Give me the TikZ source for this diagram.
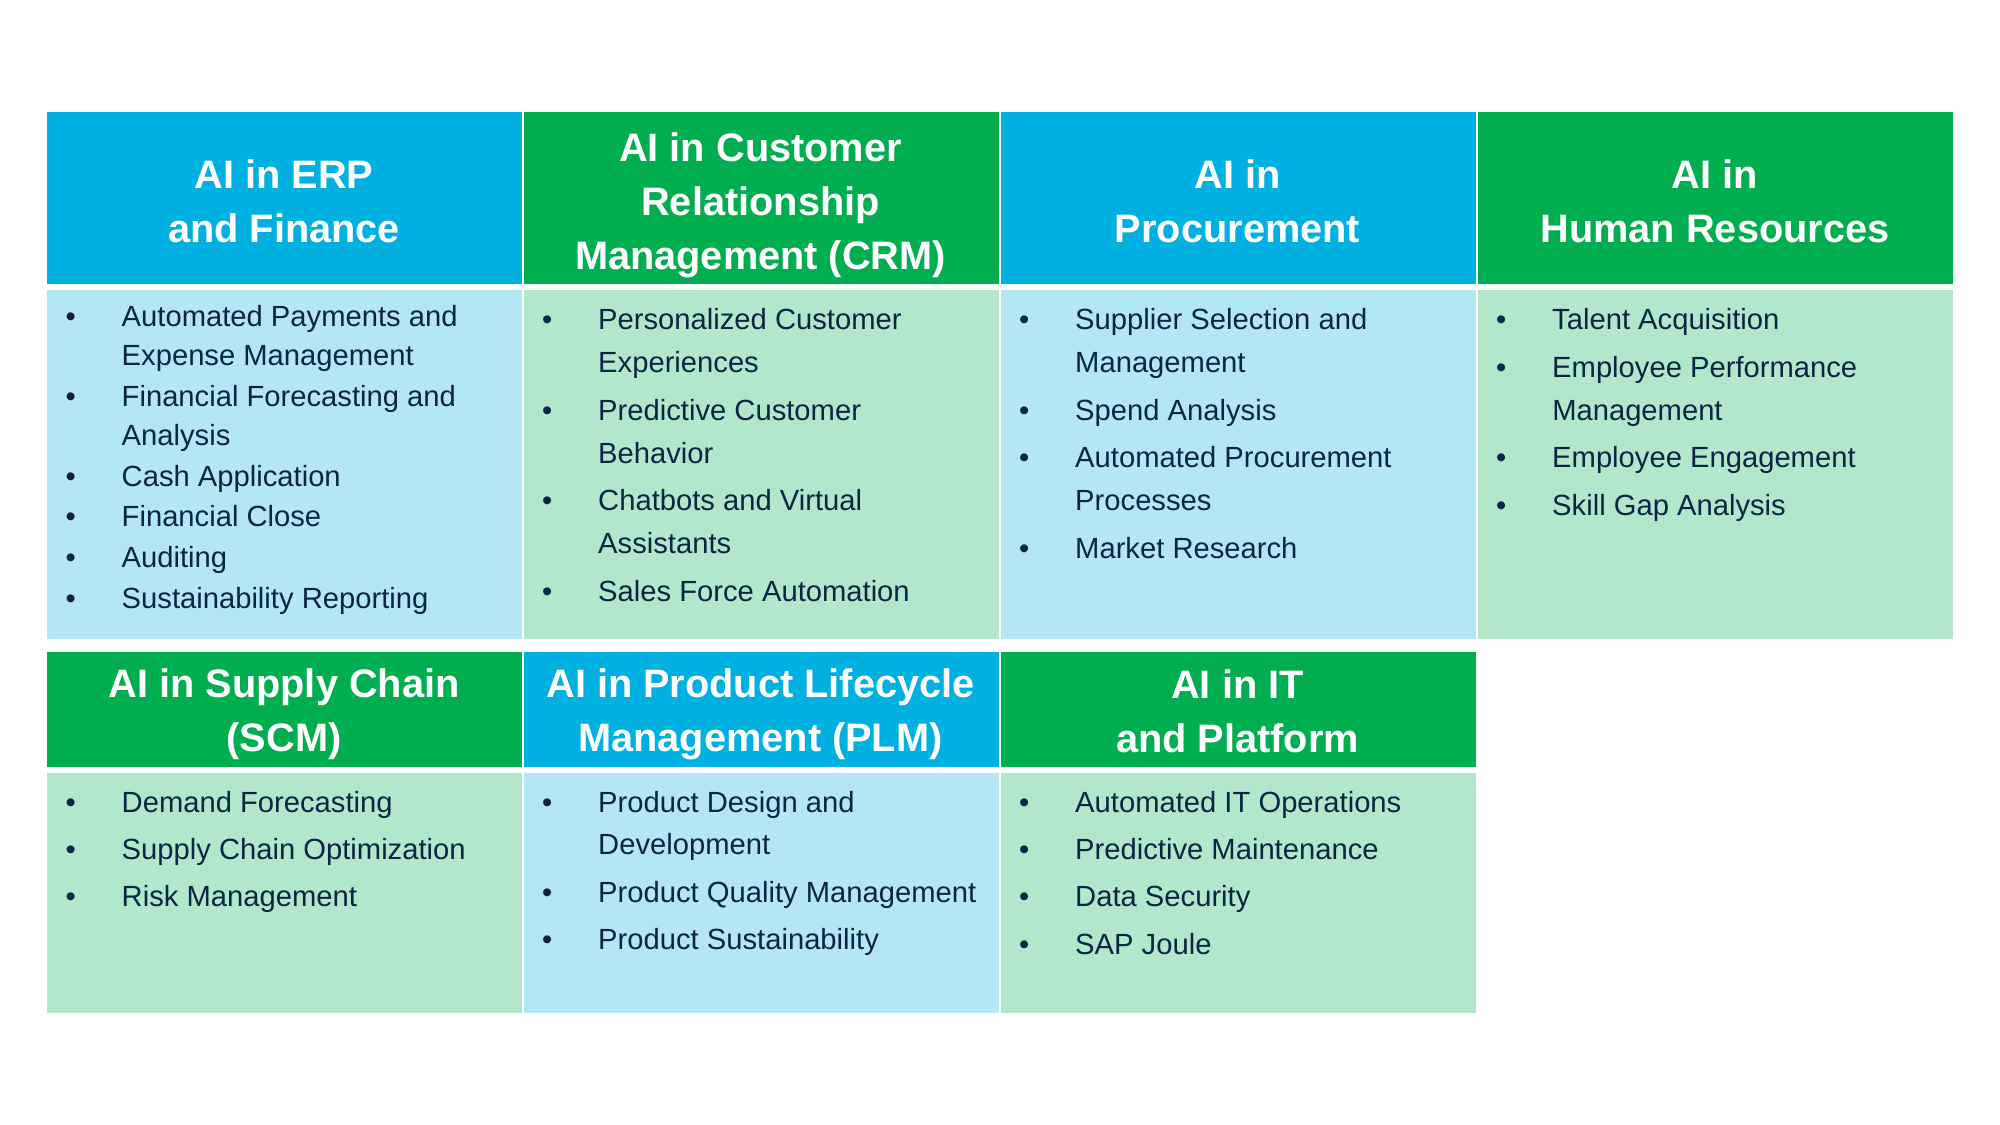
\documentclass[tikz,border=0pt]{standalone}
\usepackage{fontspec}
\setmainfont{Liberation Sans}
\definecolor{hdblue}{HTML}{00B0E0}
\definecolor{hdgreen}{HTML}{00AE50}
\definecolor{bdblue}{HTML}{B4E7F5}
\definecolor{bdgreen}{HTML}{B3E7CC}
\definecolor{navy}{HTML}{0B2443}
\newcommand{\itm}[1]{\makebox[0.56cm][l]{\textbullet}#1}
\newcommand{\cnt}[1]{\hspace*{0.56cm}#1}

\begin{document}
\begin{tikzpicture}[x=0.01cm,y=-0.01cm,
  head/.style={text=white,font=\fontsize{11.3}{15.4}\selectfont\bfseries,align=center,inner sep=0pt},
  items/.style={text=navy,font=\fontsize{8.3}{12.2}\selectfont,anchor=base west,inner sep=0pt}]
\useasboundingbox (0,0) rectangle (2000,1125);

\foreach \xa/\xb/\ca/\cb in {47/521.5/hdblue/bdblue, 523.5/998.5/hdgreen/bdgreen,
    1000.5/1475.5/hdblue/bdblue, 1477.5/1953/hdgreen/bdgreen}{
  \fill[\ca] (\xa,112) rectangle (\xb,284);
  \fill[\cb] (\xa,290) rectangle (\xb,639);
};
\foreach \xa/\xb/\ca/\cb in {47/521.5/hdgreen/bdgreen, 523.5/998.5/hdblue/bdblue,
    1000.5/1475.5/hdgreen/bdgreen}{
  \fill[\ca] (\xa,652) rectangle (\xb,767);
  \fill[\cb] (\xa,773) rectangle (\xb,1013);
};

\node[head] (erp) at (284,201) {AI in ERP\\and Finance};
\node[head] (crm) at (760.5,205) {AI in Customer\\Relationship\\Management (CRM)};
\node[head] (proc) at (1237.5,201) {AI in\\Procurement};
\node[head] (hr) at (1715,201) {AI in\\Human Resources};
\node[head] (scm) at (284,714) {AI in Supply Chain\\(SCM)};
\node[head] (plm) at (760.5,714) {AI in Product Lifecycle\\Management (PLM)};
\node[head] (it) at (1237.5,711) {AI in IT\\and Platform};

\node[items,font=\fontsize{8.3}{11.1}\selectfont] (erplist) at (65,326.5) {\begin{tabular}[t]{@{}l@{}}
  \itm{Automated Payments and}\\ \cnt{Expense Management}\\[0.5pt]
  \itm{Financial Forecasting and}\\ \cnt{Analysis}\\[0.5pt]
  \itm{Cash Application}\\[0.5pt]
  \itm{Financial Close}\\[0.5pt]
  \itm{Auditing}\\[0.5pt]
  \itm{Sustainability Reporting}
\end{tabular}};
\node[items] (crmlist) at (541.5,330) {\begin{tabular}[t]{@{}l@{}}
  \itm{Personalized Customer}\\ \cnt{Experiences}\\[1.3pt]
  \itm{Predictive Customer}\\ \cnt{Behavior}\\[1.3pt]
  \itm{Chatbots and Virtual}\\ \cnt{Assistants}\\[1.3pt]
  \itm{Sales Force Automation}
\end{tabular}};
\node[items] (proclist) at (1018.5,330) {\begin{tabular}[t]{@{}l@{}}
  \itm{Supplier Selection and}\\ \cnt{Management}\\[1.3pt]
  \itm{Spend Analysis}\\[1.3pt]
  \itm{Automated Procurement}\\ \cnt{Processes}\\[1.3pt]
  \itm{Market Research}
\end{tabular}};
\node[items] (hrlist) at (1495.5,330) {\begin{tabular}[t]{@{}l@{}}
  \itm{Talent Acquisition}\\[1.3pt]
  \itm{Employee Performance}\\ \cnt{Management}\\[1.3pt]
  \itm{Employee Engagement}\\[1.3pt]
  \itm{Skill Gap Analysis}
\end{tabular}};
\node[items] (scmlist) at (65,812) {\begin{tabular}[t]{@{}l@{}}
  \itm{Demand Forecasting}\\[1.3pt]
  \itm{Supply Chain Optimization}\\[1.3pt]
  \itm{Risk Management}
\end{tabular}};
\node[items] (plmlist) at (541.5,812) {\begin{tabular}[t]{@{}l@{}}
  \itm{Product Design and}\\ \cnt{Development}\\[1.3pt]
  \itm{Product Quality Management}\\[1.3pt]
  \itm{Product Sustainability}
\end{tabular}};
\node[items] (itlist) at (1018.5,812) {\begin{tabular}[t]{@{}l@{}}
  \itm{Automated IT Operations}\\[1.3pt]
  \itm{Predictive Maintenance}\\[1.3pt]
  \itm{Data Security}\\[1.3pt]
  \itm{SAP Joule}
\end{tabular}};

\end{tikzpicture}
\end{document}
